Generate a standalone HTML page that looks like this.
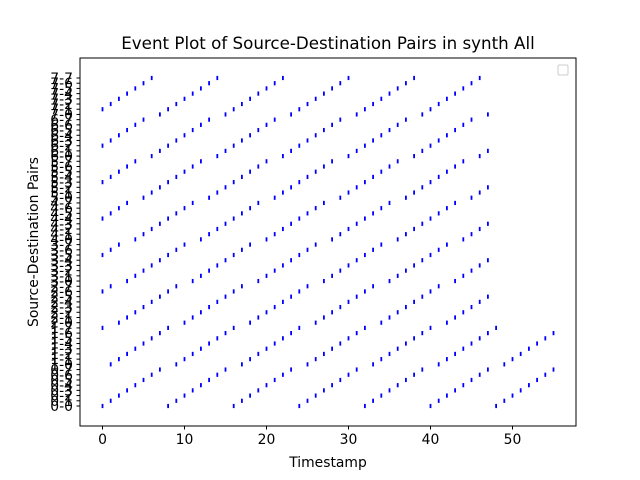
<!DOCTYPE html>
<html><head><meta charset="utf-8"><style>
html,body{margin:0;padding:0;background:#fff;}
svg{display:block;font-family:"DejaVu Sans","Liberation Sans",sans-serif;}
</style></head><body>
<svg id="chart" width="640" height="480" viewBox="0 0 640 480">
<rect x="0" y="0" width="640" height="480" fill="#fff"/>
<text x="328" y="49" font-size="16.7" text-anchor="middle" fill="#000">Event Plot of Source-Destination Pairs in synth All</text>
<g id="plot"></g>
<rect x="80" y="58" width="496" height="368" fill="none" stroke="#000" stroke-width="1"/>
<rect x="558" y="65" width="10" height="10" rx="1.5" fill="none" stroke="#ccc" stroke-width="1"/>
<text x="328" y="467" font-size="13.9" text-anchor="middle">Timestamp</text>
<text x="0" y="0" font-size="13.9" text-anchor="middle" transform="translate(38,242) rotate(-90)">Source-Destination Pairs</text>
<g id="xaxis"></g>
<g id="yaxis"></g>
</svg>
<script>
const sources = [0,1,2,3,4,5,6,7];
const destinations = [0,1,2,3,4,5,6,7];
const sourceStartTimes = [0,0,0,0,0,0,0,0];
const sourceEndTimes = [55,55,47,47,47,47,47,47];
const xTicks = [0,10,20,30,40,50];

const NS = "http://www.w3.org/2000/svg";
function xScale(t){ return 102.5 + t * 8.2; }
function yScale(row){ return 406 - row * (328/63); }

const plot = document.getElementById('plot');
sources.forEach((s, si) => {
  for (let t = sourceStartTimes[si]; t <= sourceEndTimes[si]; t++) {
    const d = ((t - s) % 8 + 8) % 8;
    const row = s * 8 + d;
    const r = document.createElementNS(NS, 'rect');
    r.setAttribute('x', xScale(t) - 0.9);
    r.setAttribute('y', yScale(row) - 2.1);
    r.setAttribute('width', 1.8);
    r.setAttribute('height', 4.2);
    r.setAttribute('fill', '#0000ff');
    
    
    plot.appendChild(r);
  }
});

const xaxis = document.getElementById('xaxis');
xTicks.forEach(v => {
  const x = xScale(v);
  const l = document.createElementNS(NS, 'line');
  l.setAttribute('x1', x); l.setAttribute('x2', x);
  l.setAttribute('y1', 426); l.setAttribute('y2', 429.5);
  l.setAttribute('stroke', '#000');
  
  
  xaxis.appendChild(l);
  const tx = document.createElementNS(NS, 'text');
  tx.setAttribute('x', x); tx.setAttribute('y', 444);
  tx.setAttribute('font-size', '13.9');
  tx.setAttribute('text-anchor', 'middle');
  tx.textContent = v;
  
  
  xaxis.appendChild(tx);
});

const yaxis = document.getElementById('yaxis');
sources.forEach(s => {
  destinations.forEach(d => {
    const row = s * 8 + d;
    const y = yScale(row);
    const l = document.createElementNS(NS, 'line');
    l.setAttribute('x1', 76.5); l.setAttribute('x2', 80);
    l.setAttribute('y1', y); l.setAttribute('y2', y);
    l.setAttribute('stroke', '#000');
    
    
    yaxis.appendChild(l);
    const tx = document.createElementNS(NS, 'text');
    tx.setAttribute('x', 73); tx.setAttribute('y', y + 5);
    tx.setAttribute('font-size', '13.9');
    tx.setAttribute('text-anchor', 'end');
    tx.textContent = s + '-' + d;
    
    
    yaxis.appendChild(tx);
  });
});
</script>
</body></html>
